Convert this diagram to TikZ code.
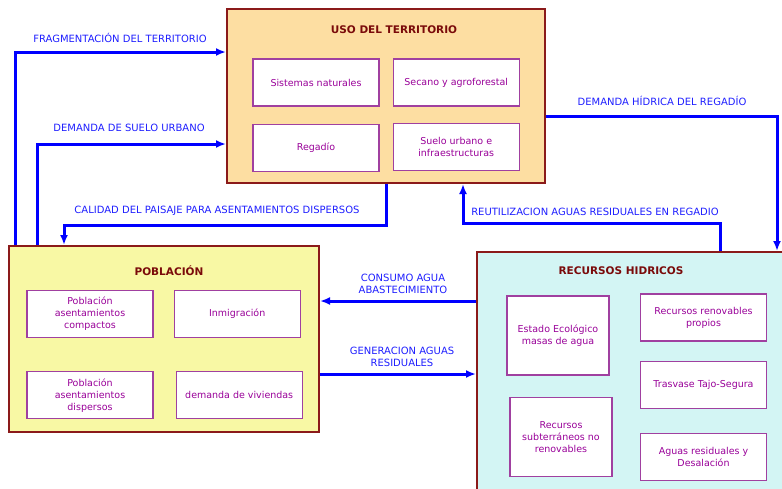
\documentclass[tikz,border=0pt]{standalone}
\usepackage{fontspec}
\setmainfont{DejaVu Sans}
\usepackage{xcolor}
\definecolor{usofill}{HTML}{FDDEA2}
\definecolor{pobfill}{HTML}{F8F8A4}
\definecolor{recfill}{HTML}{D3F5F4}
\definecolor{frame}{HTML}{8B1A1A}
\definecolor{titlered}{HTML}{7A0A0A}
\definecolor{factortext}{HTML}{990099}
\definecolor{factorline}{HTML}{A040A0}
\definecolor{flowblue}{HTML}{0000FF}
\definecolor{labelblue}{HTML}{1E1EFF}
\usetikzlibrary{positioning,arrows.meta}
\newcommand{\factornode}[3]{
\node (#1) [#2]{#3};}
\tikzstyle{block}=[rectangle, draw=frame, line width=2pt, anchor=north west, inner sep=0pt]
\tikzstyle{usoblock}=[block, fill=usofill, minimum width=318pt, minimum height=174pt]
\tikzstyle{pobblock}=[block, fill=pobfill, minimum width=310pt, minimum height=186pt]
\tikzstyle{recblock}=[block, fill=recfill, minimum width=320pt, minimum height=250pt]
\tikzstyle{blocktitle}=[text=titlered, font=\bfseries\fontsize{10.5}{12}\selectfont]
\tikzstyle{factor}=[rectangle, draw=factorline, line width=1.2pt, fill=white, text=factortext,
        align=center, font=\fontsize{9.5}{12}\selectfont, minimum width=126pt, minimum height=47pt, inner sep=1pt]
\tikzstyle{tallfactor}=[factor, minimum width=102pt, minimum height=79pt]
\tikzstyle{flowLine}=[line width=3pt, flowblue, ->, >={Latex[length=10pt,width=8pt]}]
\tikzstyle{flowLabel}=[text=labelblue, align=center, font=\fontsize{10}{12}\selectfont]

\begin{document}
\begin{tikzpicture}[x=1pt,y=-1pt]
\useasboundingbox (0,0) rectangle (782,488);
\clip (0,0) rectangle (782,488);

\node (uso) [usoblock] at (226,8) {};
\node (pob) [pobblock] at (8,245) {};
\node (rec) [recblock] at (476,251) {};

\node (usoTitle) [blocktitle] at ([xshift=8pt,yshift=-22pt]uso.north) {USO DEL TERRITORIO};
\node (pobTitle) [blocktitle] at ([xshift=5pt,yshift=-26pt]pob.north) {POBLACIÓN};
\node (recTitle) [blocktitle] at ([xshift=-16pt,yshift=-20pt]rec.north) {RECURSOS HIDRICOS};

\factornode{sisnat}{factor, at={(316,82.5)}}{Sistemas naturales}
\factornode{secano}{factor, right=13pt of sisnat}{Secano y agroforestal}
\factornode{regadio}{factor, below=17pt of sisnat}{Regadío}
\factornode{suelo}{factor, below=16pt of secano}{Suelo urbano e\\infraestructuras}

\factornode{compactos}{factor, at={(90,314)}}{Población\\asentamientos\\compactos}
\factornode{inmig}{factor, right=20pt of compactos}{Inmigración}
\factornode{dispersos}{factor, below=33pt of compactos}{Población\\asentamientos\\dispersos}
\factornode{viviendas}{factor, right=22pt of dispersos}{demanda de viviendas}

\factornode{estado}{tallfactor, at={(558,335.5)}}{Estado Ecológico\\masas de agua}
\factornode{renov}{factor, at={(703.5,317.5)}}{Recursos renovables\\propios}
\factornode{trasvase}{factor, below=19pt of renov}{Trasvase Tajo-Segura}
\factornode{aguasres}{factor, below=24pt of trasvase}{Aguas residuales y\\Desalación}
\factornode{subterr}{tallfactor, below=21pt of estado, xshift=3pt}{Recursos\\subterráneos no\\renovables}

\node (fragLabel) [flowLabel] at (120,38) {FRAGMENTACIÓN DEL TERRITORIO};
\node (sueloLabel) [flowLabel] at (129,128) {DEMANDA DE SUELO URBANO};
\node (calidadLabel) [flowLabel] at (217,211) {CALIDAD DEL PAISAJE PARA ASENTAMIENTOS DISPERSOS};
\node (hidricaLabel) [flowLabel] at (662,101) {DEMANDA HÍDRICA DEL REGADÍO};
\node (reutilLabel) [flowLabel] at (595,212) {REUTILIZACION AGUAS RESIDUALES EN REGADIO};
\node (consumoLabel) [flowLabel] at (403,284) {CONSUMO AGUA\\ABASTECIMIENTO};
\node (generaLabel) [flowLabel] at (402,357) {GENERACION AGUAS\\RESIDUALES};

\draw[flowLine] ([xshift=7pt]pob.north west) |- ([yshift=-44pt]uso.north west);
\draw[flowLine] ([xshift=29pt]pob.north west) |- ([yshift=-136pt]uso.north west);
\draw[flowLine] ([xshift=160pt]uso.south west) -- ++(0,41) -| ([xshift=56pt]pob.north west);
\draw[flowLine] ([yshift=-108pt]uso.north east) -| ([xshift=301pt]rec.north west);
\draw[flowLine] ([xshift=244pt]rec.north west) -- ++(0,-28) -| ([xshift=237pt]uso.south west);
\draw[flowLine] ([yshift=-50pt]rec.north west) -- ([yshift=-56pt]pob.north east);
\draw[flowLine] ([yshift=-129pt]pob.north east) -- ([yshift=-123pt]rec.north west);

\end{tikzpicture}
\end{document}
